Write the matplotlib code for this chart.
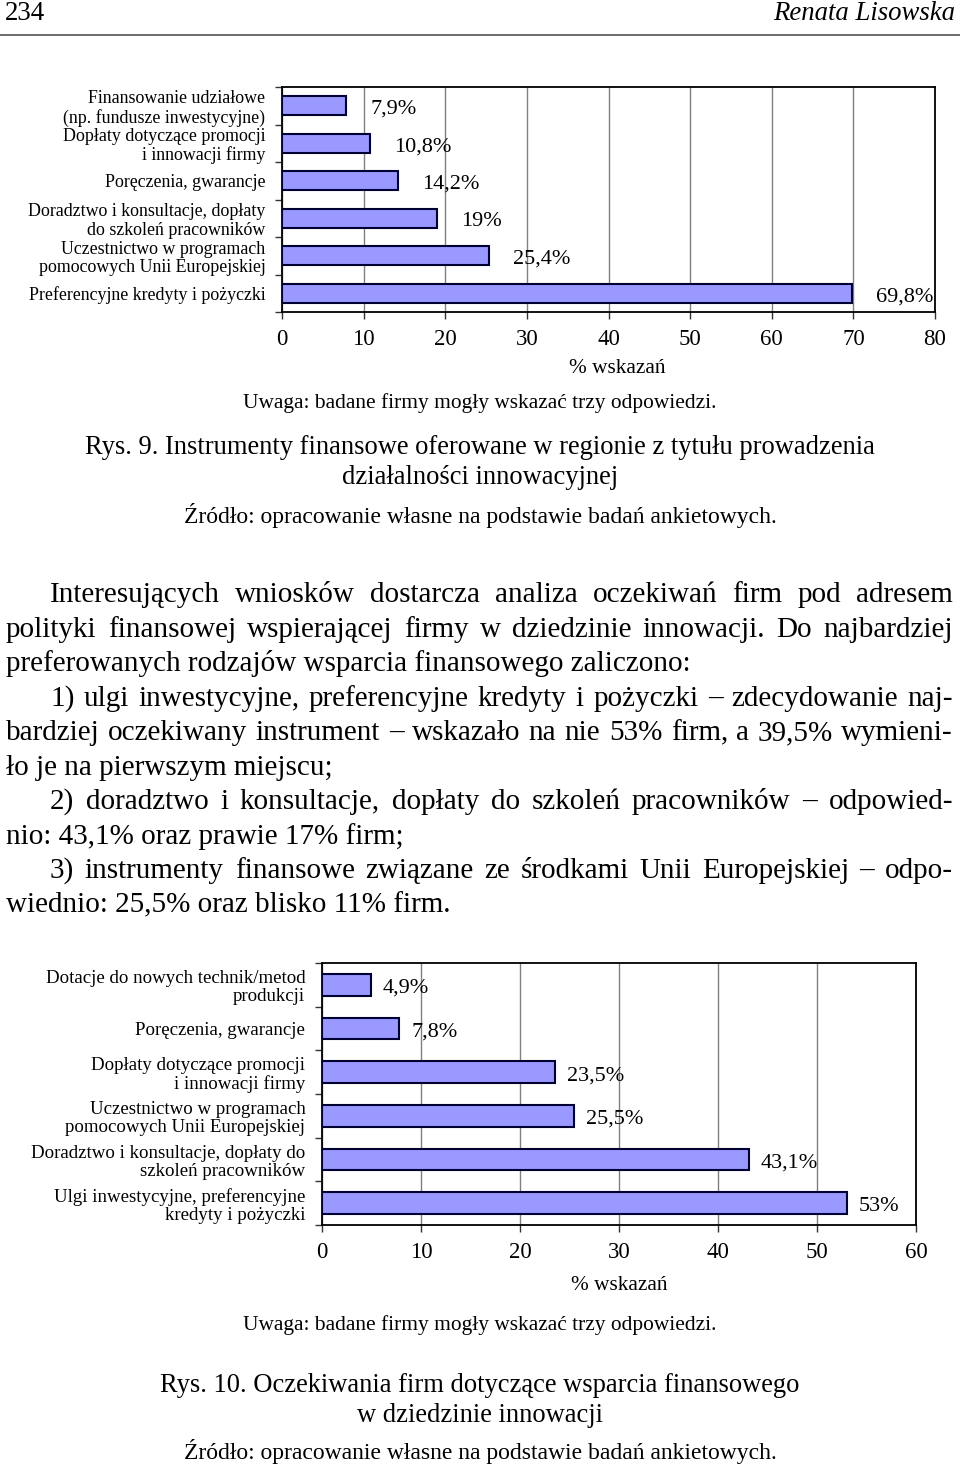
import numpy as np
import matplotlib
matplotlib.use("Agg")
import matplotlib.pyplot as plt

plt.rcParams['font.family'] = ['Liberation Serif', 'DejaVu Serif']

# ---- data: chart 1 (Rys. 9) ----
cats1 = ["Finansowanie udziałowe\n(np. fundusze inwestycyjne)",
         "Dopłaty dotyczące promocji\ni innowacji firmy",
         "Poręczenia, gwarancje",
         "Doradztwo i konsultacje, dopłaty\ndo szkoleń pracowników",
         "Uczestnictwo w programach\npomocowych Unii Europejskiej",
         "Preferencyjne kredyty i pożyczki"]
vals1 = [7.9, 10.8, 14.2, 19, 25.4, 69.8]
labels1 = ["7,9%", "10,8%", "14,2%", "19%", "25,4%", "69,8%"]

# ---- data: chart 2 (Rys. 10) ----
cats2 = ["Dotacje do nowych technik/metod\nprodukcji",
         "Poręczenia, gwarancje",
         "Dopłaty dotyczące promocji\ni innowacji firmy",
         "Uczestnictwo w programach\npomocowych Unii Europejskiej",
         "Doradztwo i konsultacje, dopłaty do\nszkoleń pracowników",
         "Ulgi inwestycyjne, preferencyjne\nkredyty i pożyczki"]
vals2 = [4.9, 7.8, 23.5, 25.5, 43.1, 53]
labels2 = ["4,9%", "7,8%", "23,5%", "25,5%", "43,1%", "53%"]

body_lines = [
    ("Interesujących wniosków dostarcza analiza oczekiwań firm pod adresem", True, True),
    ("polityki finansowej wspierającej firmy w dziedzinie innowacji. Do najbardziej", False, True),
    ("preferowanych rodzajów wsparcia finansowego zaliczono:", False, False),
    ("1) ulgi inwestycyjne, preferencyjne kredyty i pożyczki – zdecydowanie naj-", True, True),
    ("bardziej oczekiwany instrument – wskazało na nie 53% firm, a 39,5% wymieni-", False, True),
    ("ło je na pierwszym miejscu;", False, False),
    ("2) doradztwo i konsultacje, dopłaty do szkoleń pracowników – odpowied-", True, True),
    ("nio: 43,1% oraz prawie 17% firm;", False, False),
    ("3) instrumenty finansowe związane ze środkami Unii Europejskiej – odpo-", True, True),
    ("wiednio: 25,5% oraz blisko 11% firm.", False, False),
]

W, H = 960, 1466
fig = plt.figure(figsize=(W / 100, H / 100), dpi=100)
fig.patch.set_facecolor('white')
renderer = fig.canvas.get_renderer()


def fx(x):
    return x / W


def fy(y):
    return 1 - y / H


def txt(x, y, s, size, ha='center', va='center', **kw):
    return fig.text(fx(x), fy(y), s, fontsize=size, ha=ha, va=va, **kw)


def chart(rect, cats, vals, labels, xmax, gap_px, lab_size):
    l, t, r, b = rect
    ax = fig.add_axes([fx(l), fy(b), fx(r) - fx(l), (b - t) / H])
    y = np.arange(len(cats))
    ax.barh(y, vals, height=0.5, color='#9999FF', edgecolor='#000033', linewidth=1.5, zorder=3)
    ax.set_ylim(len(cats) - 0.5, -0.5)
    ax.set_xlim(0, xmax)
    ax.set_xticks(np.arange(0, xmax + 1, 10))
    ax.set_yticks(y)
    ax.set_yticklabels(cats, fontsize=lab_size, linespacing=1.1)
    ax.set_yticks(np.arange(-0.5, len(cats), 1), minor=True)
    ax.tick_params(axis='y', which='major', length=0, pad=12)
    ax.tick_params(axis='y', which='minor', length=5, width=1, color='#333333')
    ax.tick_params(axis='x', length=5, width=1, labelsize=16.5, pad=7.5, color='#333333')
    ax.xaxis.grid(True, color='#808080', linewidth=1)
    ax.set_axisbelow(True)
    for sp in ax.spines.values():
        sp.set_color('black')
        sp.set_linewidth(1.3)
    for yi, v, s in zip(y, vals, labels):
        ax.annotate(s, (v, yi), xytext=(gap_px * 0.72, -2.5), textcoords='offset points',
                    ha='left', va='center', fontsize=16)
    return ax


chart((282, 87, 935, 312), cats1, vals1, labels1, 80, 24, 12.9)
chart((322, 963, 916, 1225), cats2, vals2, labels2, 60, 12, 13.6)

# header
txt(5, 14, "234", 19.4, ha='left')
txt(955, 14, "Renata Lisowska", 19.3, ha='right', style='italic')
fig.add_artist(plt.Line2D([0, 1], [fy(35), fy(35)], color='#555555', linewidth=1.2))

# captions chart 1
txt(617, 368, "% wskazań", 15.3)
txt(480, 403, "Uwaga: badane firmy mogły wskazać trzy odpowiedzi.", 15.4)
txt(480, 447, "Rys. 9. Instrumenty finansowe oferowane w regionie z tytułu prowadzenia", 19.1)
txt(480, 478, "działalności innowacyjnej", 19.1)
txt(480, 515, "Źródło: opracowanie własne na podstawie badań ankietowych.", 17)

# captions chart 2
txt(619, 1286, "% wskazań", 15.3)
txt(480, 1325, "Uwaga: badane firmy mogły wskazać trzy odpowiedzi.", 15.4)
txt(480, 1385, "Rys. 10. Oczekiwania firm dotyczące wsparcia finansowego", 19.1)
txt(480, 1415, "w dziedzinie innowacji", 19.1)
txt(480, 1452, "Źródło: opracowanie własne na podstawie badań ankietowych.", 17)

# justified body text
BODY = 21
x_left, x_indent, x_right = 6, 50, 953
for i, (line, indent, justify) in enumerate(body_lines):
    base = 602 + i * 34.5
    x0 = x_indent if indent else x_left
    if not justify:
        txt(x0, base, line, BODY, ha='left', va='baseline')
        continue
    words = line.split()
    widths = []
    for w in words:
        t = txt(0, 0, w, BODY, ha='left', va='baseline')
        widths.append(t.get_window_extent(renderer).width)
        t.remove()
    gap = (x_right - x0 - sum(widths)) / (len(words) - 1)
    x = x0
    for w, wd in zip(words, widths):
        txt(x, base, w, BODY, ha='left', va='baseline')
        x += wd + gap

fig.savefig("out.png", dpi=100, facecolor='white')
